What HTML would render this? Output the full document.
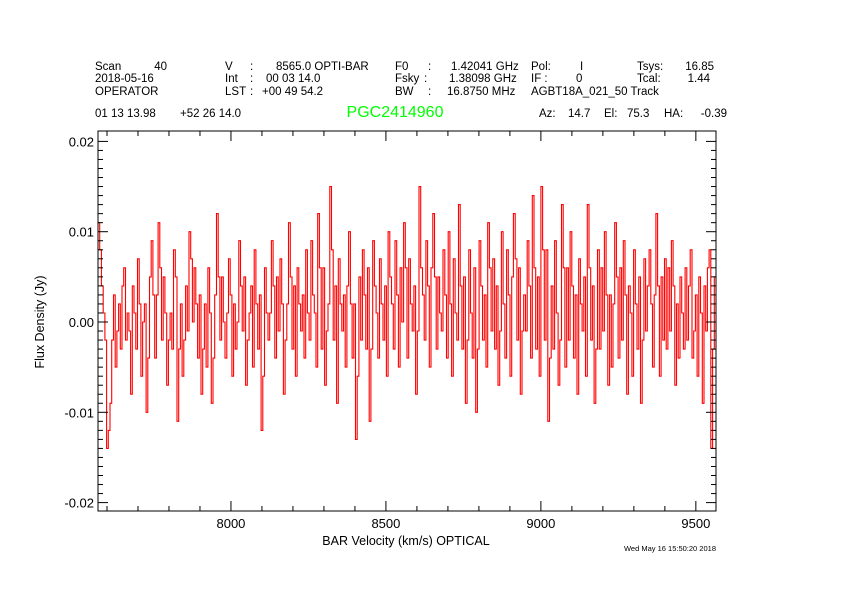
<!DOCTYPE html>
<html><head><meta charset="utf-8"><style>
body{margin:0;background:#fff;}
svg text{font-family:"Liberation Sans",sans-serif;fill:#000;}
</style></head><body>
<svg id="c" width="842" height="595">
<g font-size="11.5">
<text x="95" y="70">Scan</text><text x="167" y="70" text-anchor="end">40</text>
<text x="95" y="82">2018-05-16</text><text x="95" y="95">OPERATOR</text>
<text x="225" y="70">V</text><text x="250" y="70">:</text><text x="276" y="70">8565.0 OPTI-BAR</text>
<text x="225" y="82">Int</text><text x="250" y="82">:</text><text x="266" y="82">00 03 14.0</text>
<text x="225" y="95">LST</text><text x="250" y="95">:</text><text x="262" y="95">+00 49 54.2</text>
<text x="395" y="70">F0</text><text x="428" y="70">:</text><text x="451" y="70">1.42041 GHz</text>
<text x="395" y="82">Fsky</text><text x="424" y="82">:</text><text x="449" y="82">1.38098 GHz</text>
<text x="395" y="95">BW</text><text x="428" y="95">:</text><text x="447" y="95">16.8750 MHz</text>
<text x="531" y="70">Pol:</text><text x="580" y="70">I</text>
<text x="531" y="82">IF :</text><text x="576" y="82">0</text>
<text x="531" y="95">AGBT18A_021_50 Track</text>
<text x="637" y="70">Tsys:</text><text x="714" y="70" text-anchor="end">16.85</text>
<text x="637" y="82">Tcal:</text><text x="710" y="82" text-anchor="end">1.44</text>
<text x="95" y="117">01 13 13.98</text><text x="180" y="117">+52 26 14.0</text>
<text x="395" y="117" text-anchor="middle" font-size="16" style="fill:#00ff00">PGC2414960</text>
<text x="539" y="117">Az:</text><text x="568" y="117">14.7</text>
<text x="604" y="117">El:</text><text x="627" y="117">75.3</text>
<text x="664" y="117">HA:</text><text x="727" y="117" text-anchor="end">-0.39</text>
</g>
<text x="406" y="545" text-anchor="middle" font-size="12.5">BAR Velocity (km/s) OPTICAL</text>
<text transform="translate(44,322) rotate(-90)" text-anchor="middle" font-size="12.5">Flux Density (Jy)</text>
<text x="716" y="551" text-anchor="end" font-size="7.5">Wed May 16 15:50:20 2018</text>
<g id="plot"></g>
</svg>
<script>
const yTicks=[0.02,0.01,0,-0.01,-0.02];
const yTickLabels=["0.02","0.01","0.00","-0.01","-0.02"];
const xTicks=[8000,8500,9000,9500];
const xTickLabels=["8000","8500","9000","9500"];
const vStart=7571, vEnd=9565;
const fluxMJy=[11,8,4,1,-2,-14,-12,-9,-2,3,-5,-1,2,-3,4,6,-2,1,-1,-8,
4,1,-3,7,2,-6,0,2,-10,-4,5,9,3,-4,3,11,6,-2,5,1,
-7,-2,1,-3,8,5,-11,-3,2,-6,-2,4,-1,10,7,0,6,2,-4,3,
-8,-3,2,-5,6,1,-9,-4,3,12,5,-2,5,0,-4,1,7,3,-6,2,
-3,0,9,4,-1,5,-7,-2,1,4,-5,8,2,-3,3,-12,-6,6,1,-2,
1,9,4,-4,5,-1,7,2,-8,-2,2,11,5,-3,4,-6,6,2,-1,3,
-4,8,1,-2,9,3,1,-5,12,6,-3,6,-7,-1,2,15,8,-2,4,-9,
7,2,-1,3,-5,4,10,2,-4,2,-13,-6,5,-2,8,3,-3,6,-11,-3,
9,4,1,-4,7,2,-2,4,-6,10,5,2,-3,9,3,-5,6,0,11,6,
-4,7,2,-1,4,-8,-1,15,6,3,-2,9,4,-5,6,12,5,-3,5,1,
-1,8,3,-4,10,2,-6,7,1,-2,13,4,-3,5,-9,-2,8,1,-4,6,
-10,-3,9,4,-2,3,-5,11,6,-1,7,-3,4,-7,-1,10,2,-4,8,3,
-6,5,12,7,-2,6,-8,-1,3,-1,9,4,-4,14,6,-3,5,-6,15,8,
-2,8,-11,-4,4,-3,9,1,-7,-2,13,6,-5,6,-2,10,4,-4,3,-8,
7,2,-1,5,-6,13,6,-2,4,-9,-3,8,-3,6,-1,10,3,-7,3,-5,
2,11,5,-4,6,-2,9,3,-8,4,1,-6,8,2,-3,5,-9,-2,7,-1,
4,8,2,-5,3,12,4,-6,5,-2,7,-3,6,-1,9,4,-7,2,-4,5,
1,-3,6,-2,4,8,-4,-1,3,-6,5,1,-9,4,-1,6,8,-14,-3,5];
const L=98,R=716,T=131,B=511;
const xs=v=>L+(v-vStart)/(vEnd-vStart)*(R-L);
const ys=f=>322-f*9030;
const NS="http://www.w3.org/2000/svg";
const g=document.getElementById('plot');
function mk(t,a){const e=document.createElementNS(NS,t);for(const k in a)e.setAttribute(k,a[k]);g.appendChild(e);return e;}
const n=fluxMJy.length, dv=(vEnd-vStart)/n;
let d="";
fluxMJy.forEach((f,i)=>{const y=ys(f/1000);const x0=xs(vStart+i*dv),x1=xs(vStart+(i+1)*dv);d+=(i?"L":"M")+x0.toFixed(1)+","+y.toFixed(1)+"L"+x1.toFixed(1)+","+y.toFixed(1);});
const sp=mk('path',{d:d,fill:'none',stroke:'#ff0000','stroke-width':1.1});


const fr=mk('rect',{x:L,y:T,width:R-L,height:B-T,fill:'none',stroke:'#000','stroke-width':1});


for(let k=-21;k<=20;k++){const y=ys(k/1000);if(y<T||y>B)continue;const len=(k%10===0)?10:5;
mk('line',{x1:L,x2:L+len,y1:y,y2:y,stroke:'#000'});mk('line',{x1:R,x2:R-len,y1:y,y2:y,stroke:'#000'});}
yTicks.forEach((v,i)=>{const t=mk('text',{x:L-4,y:ys(v)+5,'text-anchor':'end','font-size':13});t.textContent=yTickLabels[i];

});
for(let v=7600;v<=9560;v+=100){const x=xs(v);const len=(v%500===0)?10:5;
mk('line',{x1:x,x2:x,y1:B,y2:B-len,stroke:'#000'});mk('line',{x1:x,x2:x,y1:T,y2:T+len,stroke:'#000'});}
xTicks.forEach((v,i)=>{const t=mk('text',{x:xs(v),y:B+17,'text-anchor':'middle','font-size':13});t.textContent=xTickLabels[i];

});
</script>
</body></html>
